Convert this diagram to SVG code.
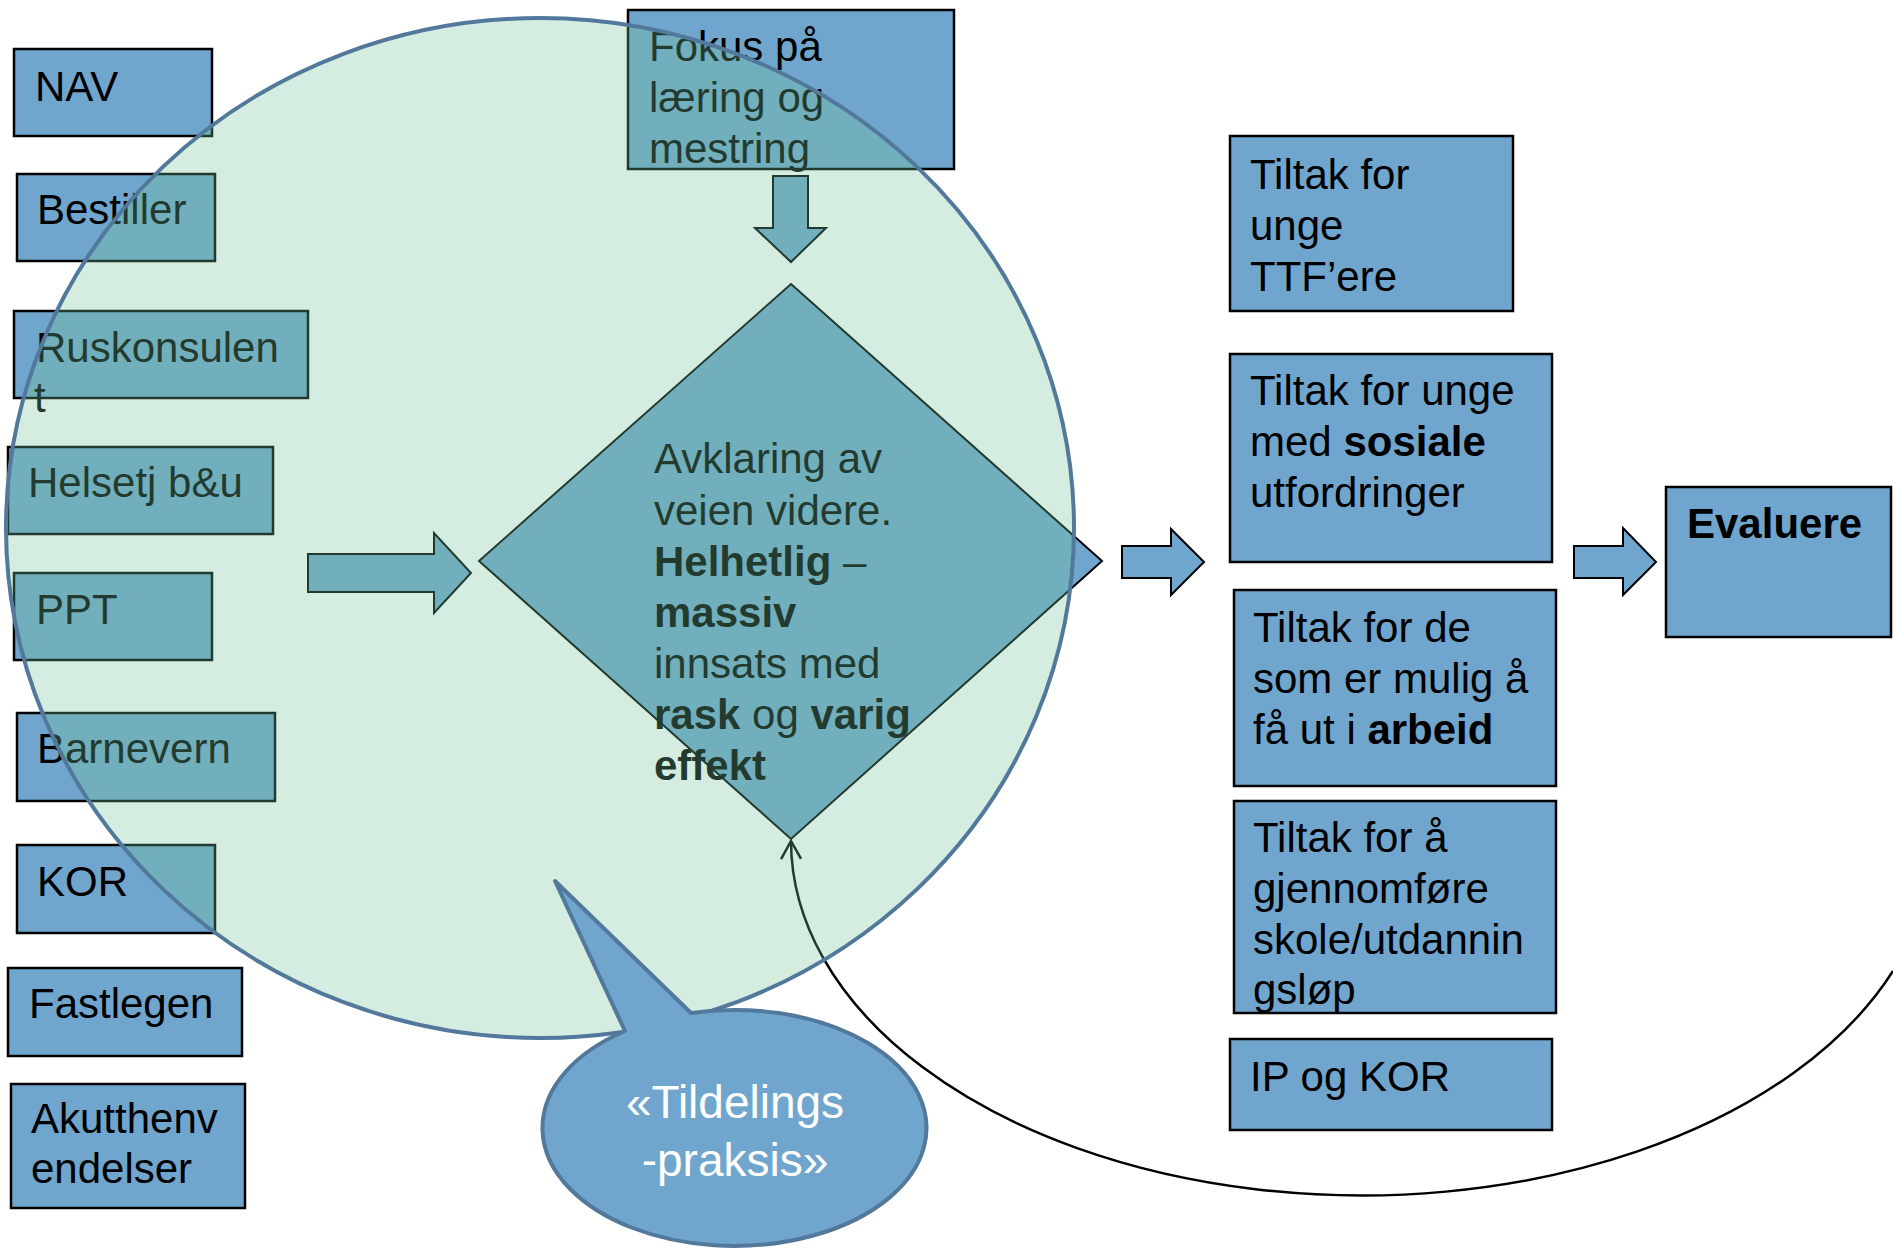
<svg xmlns="http://www.w3.org/2000/svg" width="1893" height="1248" viewBox="0 0 1893 1248">
<defs>
<style>
.box{fill:#70a6cd;stroke:#000;stroke-width:2.5}
.shape{fill:#70a6cd;stroke:#000;stroke-width:2}
.t{font-family:"Liberation Sans",Arial,sans-serif;font-size:42px;fill:#000}
.b{font-weight:bold}
.ct{font-family:"Liberation Sans",Arial,sans-serif;font-size:46px;fill:#fff;text-anchor:middle}
.curve{fill:none;stroke:#000;stroke-width:2.5}
</style>
<marker id="openArrow" viewBox="0 0 24 24" refX="20" refY="12" markerWidth="24" markerHeight="24" markerUnits="userSpaceOnUse" orient="auto-start-reverse">
<path d="M2,2 L20,12 L2,22" fill="none" stroke="#000" stroke-width="2.5"/>
</marker>
</defs>
<rect width="1893" height="1248" fill="#fff"/>

<g id="node-nav"><rect class="box" x="14" y="49" width="198" height="87"/><text class="t" x="35" y="101">NAV</text></g>
<g id="node-bestiller"><rect class="box" x="17" y="174" width="198" height="87"/><text class="t" x="37" y="224">Bestiller</text></g>
<g id="node-ruskonsulent"><rect class="box" x="14" y="311" width="294" height="87"/><text class="t" x="36" y="362">Ruskonsulen<tspan x="34" y="412">t</tspan></text></g>
<g id="node-helsetj"><rect class="box" x="8" y="447" width="265" height="87"/><text class="t" x="28" y="497">Helsetj b&amp;u</text></g>
<g id="node-ppt"><rect class="box" x="14" y="573" width="198" height="87"/><text class="t" x="36" y="624">PPT</text></g>
<g id="node-barnevern"><rect class="box" x="17" y="713" width="258" height="88"/><text class="t" x="37" y="763">Barnevern</text></g>
<g id="node-kor"><rect class="box" x="17" y="845" width="198" height="88"/><text class="t" x="37" y="896">KOR</text></g>
<g id="node-fastlegen"><rect class="box" x="8" y="968" width="234" height="88"/><text class="t" x="29" y="1018">Fastlegen</text></g>
<g id="node-akutt"><rect class="box" x="11" y="1084" width="234" height="124"/><text class="t" x="31" y="1133">Akutthenv<tspan x="31" y="1183">endelser</tspan></text></g>

<g id="node-fokus"><rect class="box" x="628" y="10" width="326" height="159"/><text class="t" x="649" y="61">Fokus på<tspan x="649" y="112">læring og</tspan><tspan x="649" y="163">mestring</tspan></text></g>

<g id="node-avklaring"><polygon class="shape" points="791,284 1102,561 791,839 479,561"/>
<text class="t" x="654" y="473">Avklaring av<tspan x="654" y="525">veien videre.</tspan><tspan x="654" y="576"><tspan class="b">Helhetlig</tspan> –</tspan><tspan x="654" y="627" class="b">massiv</tspan><tspan x="654" y="678">innsats med</tspan><tspan x="654" y="729"><tspan class="b">rask</tspan> og <tspan class="b">varig</tspan></tspan><tspan x="654" y="780" class="b">effekt</tspan></text></g>

<g id="connectors">
<polygon class="shape" points="308,554 434,554 434,533 471,573 434,613 434,592 308,592"/>
<polygon class="shape" points="773,176 808,176 808,228 826,228 791,262 755,228 773,228"/>
<polygon class="shape" points="1122,546 1171,546 1171,529 1204,562 1171,595 1171,578 1122,578"/>
<polygon class="shape" points="1574,546 1623,546 1623,528 1656,562 1623,595 1623,578 1574,578"/>
<path class="curve" d="M791,841 A571 355 0 0 0 1893,971" marker-start="url(#openArrow)"/>
</g>

<g id="node-circle"><ellipse cx="540" cy="528" rx="534" ry="510" fill="rgb(115,195,152)" fill-opacity="0.3" stroke="#52799b" stroke-width="4"/></g>

<g id="node-tildeling"><path d="M625,1031 L555,881 L691,1013 A192 118 0 1 1 625,1031 Z" fill="#70a6cd" stroke="#52799b" stroke-width="4" stroke-linejoin="round"/>
<text class="ct" x="735" y="1118">«Tildelings<tspan x="735" y="1176">-praksis»</tspan></text></g>

<g id="node-ttf"><rect class="box" x="1230" y="136" width="283" height="175"/><text class="t" x="1250" y="189">Tiltak for<tspan x="1250" y="240">unge</tspan><tspan x="1250" y="291">TTF’ere</tspan></text></g>
<g id="node-sosiale"><rect class="box" x="1230" y="354" width="322" height="208"/><text class="t" x="1250" y="405">Tiltak for unge<tspan x="1250" y="456">med <tspan class="b">sosiale</tspan></tspan><tspan x="1250" y="507">utfordringer</tspan></text></g>
<g id="node-arbeid"><rect class="box" x="1234" y="590" width="322" height="196"/><text class="t" x="1253" y="642">Tiltak for de<tspan x="1253" y="693">som er mulig å</tspan><tspan x="1253" y="744">få ut i <tspan class="b">arbeid</tspan></tspan></text></g>
<g id="node-skole"><rect class="box" x="1234" y="801" width="322" height="212"/><text class="t" x="1253" y="852">Tiltak for å<tspan x="1253" y="903">gjennomføre</tspan><tspan x="1253" y="954">skole/utdannin</tspan><tspan x="1253" y="1004">gsløp</tspan></text></g>
<g id="node-ip"><rect class="box" x="1230" y="1039" width="322" height="91"/><text class="t" x="1250" y="1091">IP og KOR</text></g>
<g id="node-evaluere"><rect class="box" x="1666" y="487" width="225" height="150"/><text class="t b" x="1687" y="538">Evaluere</text></g>
</svg>
